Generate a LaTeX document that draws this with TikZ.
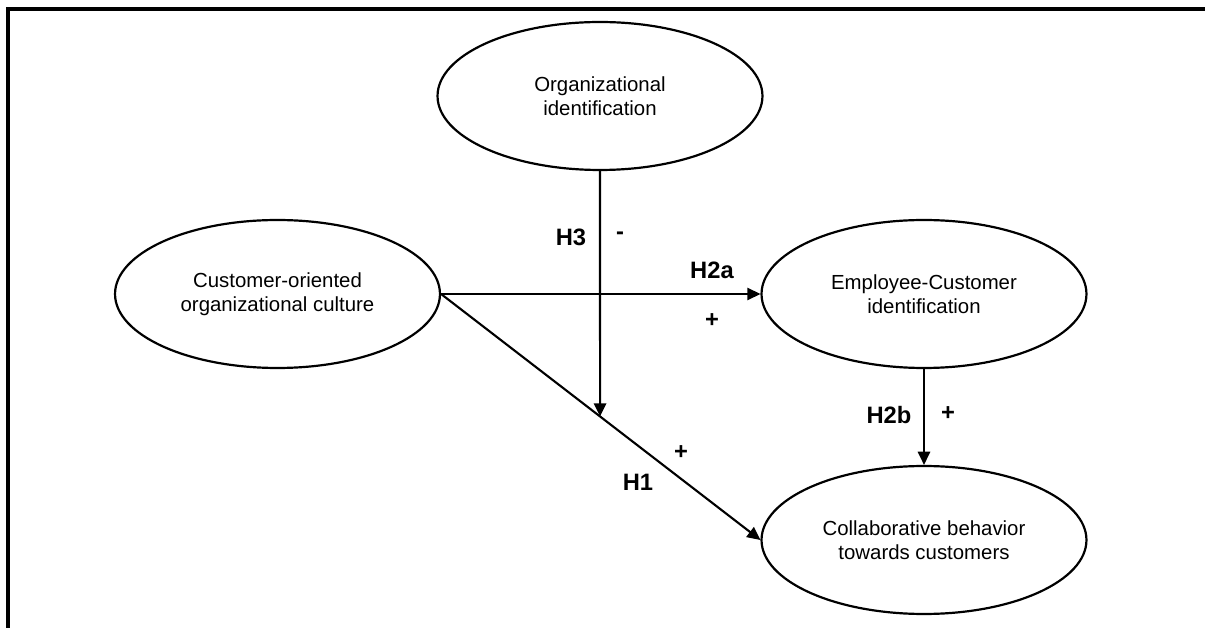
\documentclass[tikz,border=0pt]{standalone}
\usepackage{fontspec}
\setmainfont{Liberation Sans}
\usetikzlibrary{shapes.geometric,arrows.meta}

\begin{document}
\begin{tikzpicture}[x=0.02cm,y=-0.02cm,
	costrutto/.style={draw,ellipse,line width=1.25pt,minimum width=6.5cm,minimum height=2.96cm,align=center,font=\fontsize{11.6}{13.6}\selectfont},
	freccia/.style={line width=1.2pt,-{Triangle[length=7.5pt,width=7pt]}},
	ipotesi/.style={font=\fontsize{13.5}{15}\selectfont\bfseries}]
	\useasboundingbox (0,0) rectangle (1205,628);
	% cornice
	\draw[line width=2pt] (8,628) -- (8,9) -- (1205,9);
	% costrutti
	\node[costrutto] (oi) at (600,96) {Organizational\\identification};
	\node[costrutto] (coc) at (277.5,294) {Customer-oriented\\organizational culture};
	\node[costrutto] (eci) at (924,294) {Employee-Customer\\identification};
	\node[costrutto] (cbc) at (924,540) {Collaborative behavior\\towards customers};
	% frecce
	\coordinate (oibot) at (600,600);
	\coordinate (h3end) at (intersection of coc.east--cbc.west and oi.south--oibot);
	\draw[freccia] (coc.east) -- (eci.west);
	\draw[freccia] (coc.east) -- (cbc.west);
	\draw[freccia] (oi.south) -- (h3end);
	\draw[freccia] (eci.south) -- (cbc.north);
	% etichette
	\node[ipotesi] (h3) at (571,237) {H3};
	\node[ipotesi] (h3s) at (620,236) {-};
	\node[ipotesi] (h2a) at (712,270) {H2a};
	\node[ipotesi] (h2as) at (712,321) {+};
	\node[ipotesi] (h2b) at (889,415) {H2b};
	\node[ipotesi] (h2bs) at (948,414) {+};
	\node[ipotesi] (h1) at (638,482) {H1};
	\node[ipotesi] (h1s) at (681,453) {+};
\end{tikzpicture}
\end{document}
